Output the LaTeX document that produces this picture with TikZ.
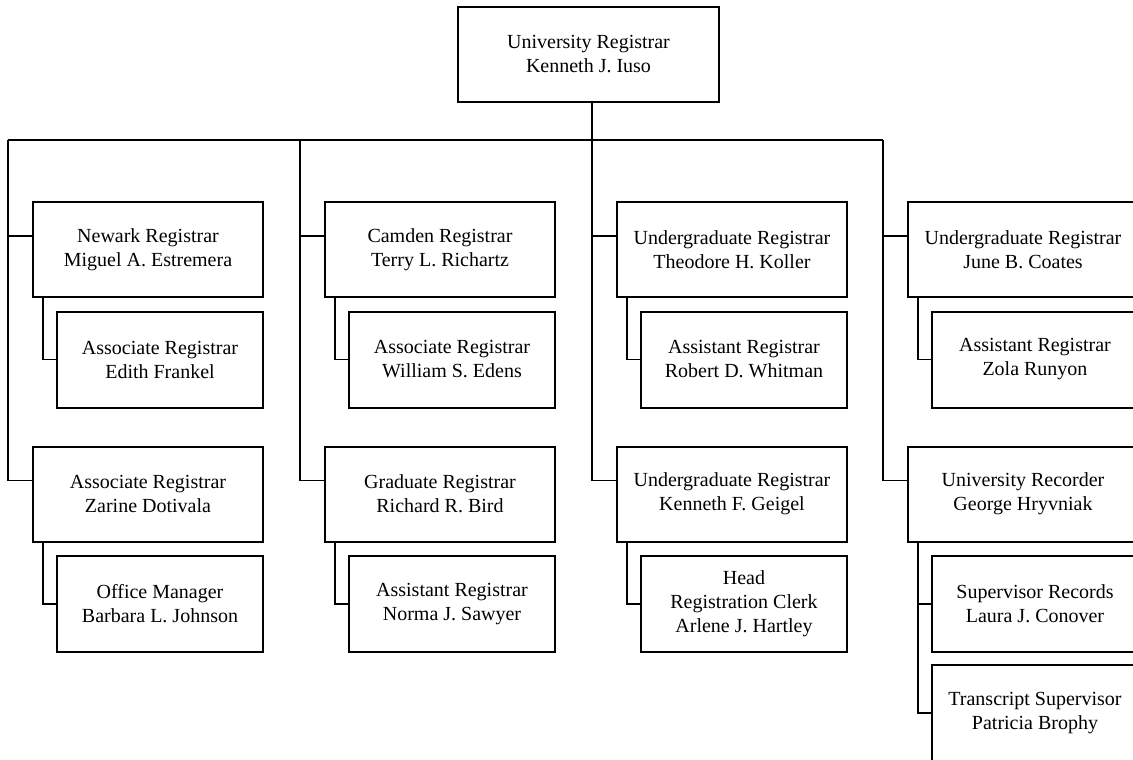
\documentclass[tikz,border=0pt]{standalone}
\usepackage{fontspec}
\setmainfont{Liberation Serif}
\usetikzlibrary{calc}
\begin{document}
\begin{tikzpicture}[x=1pt,y=-1pt,
  box/.style={draw,line width=2pt,rectangle,inner sep=0pt,align=center,
    font=\fontsize{20}{24}\selectfont},
  mainbox/.style={box,minimum width=230,minimum height=95},
  subbox/.style={box,minimum width=206,minimum height=96},
  topbox/.style={box,minimum width=261,minimum height=95},
  link/.style={line width=1.6pt}]
\useasboundingbox (0,0) rectangle (1133,760);
\fill[white] (0,0) rectangle (1133,760);
\clip (0,0) rectangle (1133,760);

% head of the office
\node[topbox] (top) at (588.5,54.5) {University Registrar\\Kenneth J. Iuso};

% column 1
\node[mainbox] (m11) at (148,249.5) {Newark Registrar\\Miguel A. Estremera};
\node[subbox]  (s11) at (160,359.5) {Associate Registrar\\Edith Frankel};
\node[mainbox] (m12) at (148,494)   {Associate Registrar\\Zarine Dotivala};
\node[subbox]  (s12) at (160,604)   {Office Manager\\Barbara L. Johnson};

% column 2
\node[mainbox] (m21) at (440,249.5) {Camden Registrar\\Terry L. Richartz};
\node[subbox]  (s21) at (452,359.5) {Associate Registrar\\William S. Edens};
\node[mainbox] (m22) at (440,494)   {Graduate Registrar\\Richard R. Bird};
\node[subbox]  (s22) at (452,604)   {Assistant Registrar\\Norma J. Sawyer};

% column 3
\node[mainbox] (m31) at (732,249.5) {Undergraduate Registrar\\Theodore H. Koller};
\node[subbox]  (s31) at (744,359.5) {Assistant Registrar\\Robert D. Whitman};
\node[mainbox] (m32) at (732,494)   {Undergraduate Registrar\\Kenneth F. Geigel};
\node[subbox]  (s32) at (744,604)   {Head\\Registration Clerk\\Arlene J. Hartley};

% column 4
\node[mainbox] (m41) at (1023,249.5) {Undergraduate Registrar\\June B. Coates};
\node[subbox]  (s41) at (1035,359.5) {Assistant Registrar\\Zola Runyon};
\node[mainbox] (m42) at (1023,494)   {University Recorder\\George Hryvniak};
\node[subbox]  (s42) at (1035,604)   {Supervisor Records\\Laura J. Conover};
\node[subbox]  (s43) at (1035,713)   {Transcript Supervisor\\Patricia Brophy};

% distribution bus
\coordinate (c1) at (8,140);
\coordinate (c2) at (300,140);
\coordinate (c3) at (592,140);
\coordinate (c4) at (883,140);
\draw[link] (top.south -| c3) -- (c3);
\draw[link] (c1) -- (c4);

% branches into the main boxes
\foreach \c in {1,2,3,4}{
  \coordinate (p\c1) at ($(m\c1.north west)+(0,35)$);
  \coordinate (p\c2) at ($(m\c2.north west)+(0,35)$);
  \draw[link] (c\c) |- (p\c2);
  \draw[link] (c\c |- p\c1) -- (p\c1);
}

% branches into the subordinate boxes
\foreach \c in {1,2,3,4}{
  \coordinate (q\c1) at ($(m\c1.south west)+(11,0)$);
  \coordinate (q\c2) at ($(m\c2.south west)+(11,0)$);
  \draw[link] (q\c1) |- (s\c1.west);
}
\foreach \c in {1,2,3}{
  \draw[link] (q\c2) |- (s\c2.west);
}
\draw[link] (q42) |- (s43.west);
\draw[link] (q42 |- s42.west) -- (s42.west);
\end{tikzpicture}
\end{document}
